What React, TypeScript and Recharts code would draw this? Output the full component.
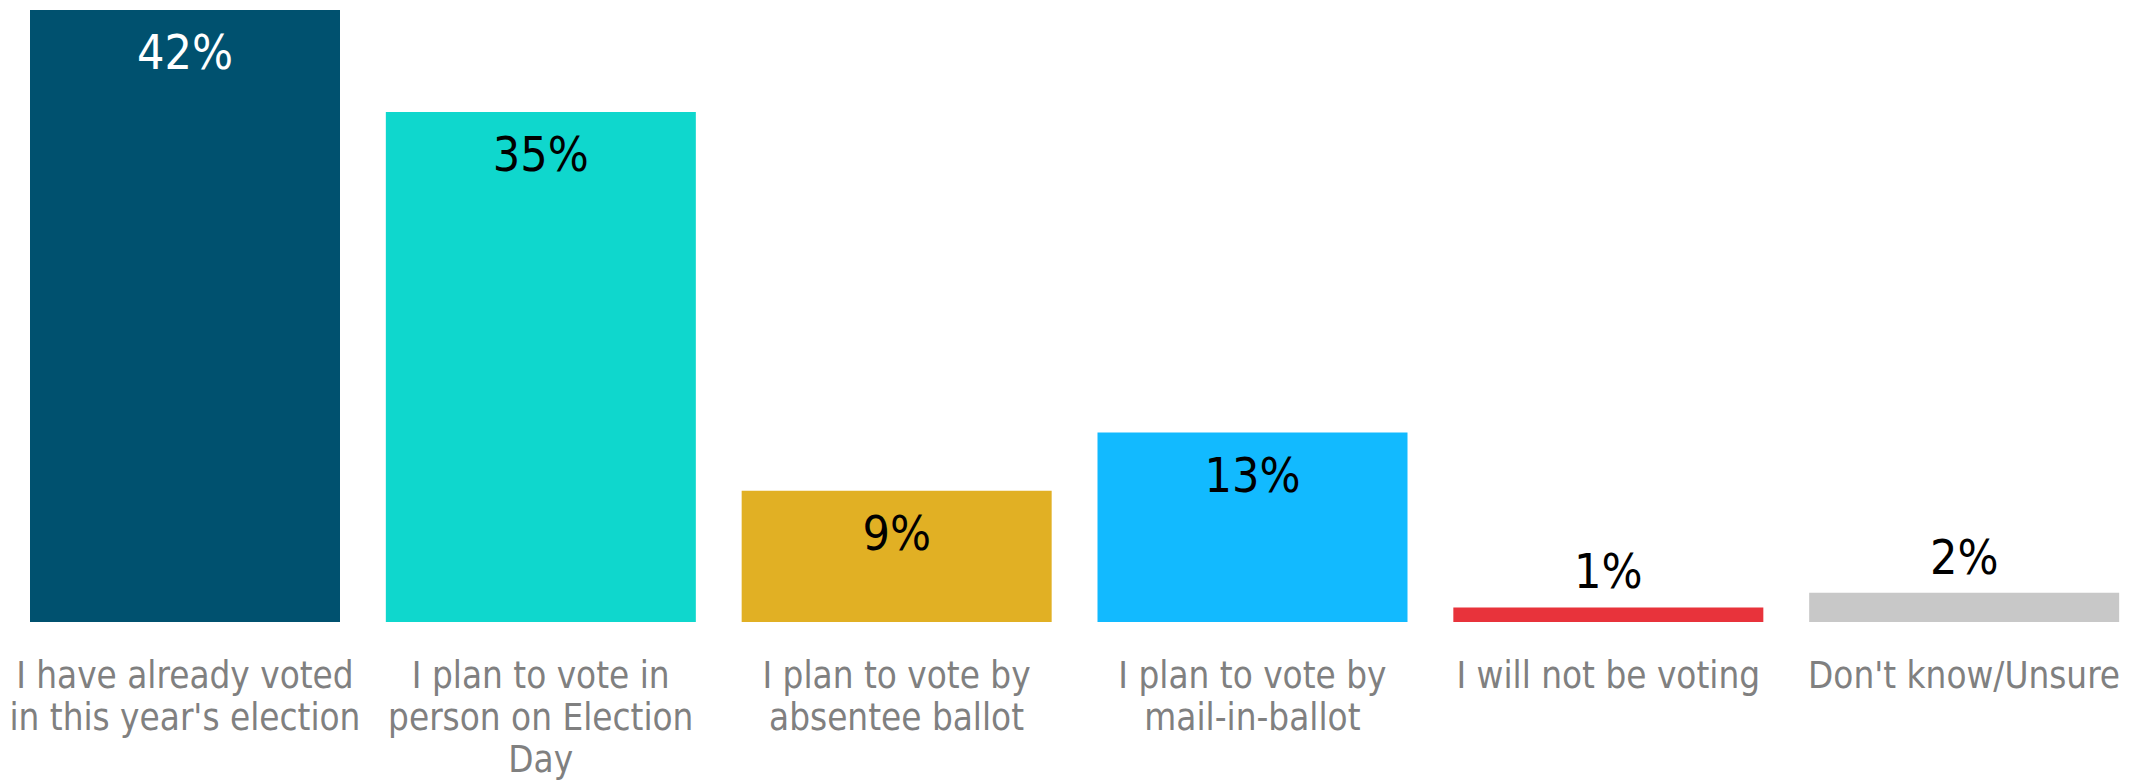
import { BarChart, Bar, XAxis, YAxis, Cell, LabelList } from "recharts"

const categories = [
  "I have already voted in this year's election",
  "I plan to vote in person on Election Day",
  "I plan to vote by absentee ballot",
  "I plan to vote by mail-in-ballot",
  "I will not be voting",
  "Don't know/Unsure",
]
const values = [42, 35, 9, 13, 1, 2]
const tickLines = [
  ["I have already voted", "in this year's election"],
  ["I plan to vote in", "person on Election", "Day"],
  ["I plan to vote by", "absentee ballot"],
  ["I plan to vote by", "mail-in-ballot"],
  ["I will not be voting"],
  ["Don't know/Unsure"],
]
const colors = ["#00516f", "#0fd7cd", "#e1b024", "#12baff", "#e8333b", "#c8c8c8"]
const labelColors = ["#ffffff", "#000000", "#000000", "#000000", "#000000", "#000000"]

const data = categories.map((name, i) => ({ name, value: values[i] }))

const FONT = "Tahoma, 'DejaVu Sans Condensed', 'DejaVu Sans', sans-serif"

function CategoryTick(props: any) {
  const { x, y, index } = props
  const lines = tickLines[index] || []
  return (
    <g>
      {lines.map((line, i) => (
        <text
          key={i}
          x={x}
          y={y + 45 + i * 42}
          textAnchor="middle"
          dominantBaseline="central"
          fill="#808080"
          fontSize={36.5}
          fontFamily={FONT}
        >
          {line}
        </text>
      ))}
    </g>
  )
}

function ValueLabel(props: any) {
  const { x, y, width, value, index } = props
  const inside = value >= 5 // short bars get their label above
  return (
    <text
      x={x + width / 2}
      y={inside ? y + 42 : y - 36}
      textAnchor="middle"
      dominantBaseline="central"
      fill={labelColors[index]}
      fontSize={48}
      fontFamily={FONT}
    >
      {value}%
    </text>
  )
}

export default function App() {
  return (
    <div style={{ position: "absolute", left: 0, top: 0, background: "#fff" }}>
      <BarChart
        width={2149}
        height={780}
        data={data}
        margin={{ top: 10, right: 7, bottom: 0, left: 7 }}
        barCategoryGap={23}
      >
        <XAxis
          dataKey="name"
          axisLine={false}
          tickLine={false}
          interval={0}
          height={158}
          tick={<CategoryTick />}
        />
        <YAxis hide domain={[0, 42]} allowDataOverflow />
        <Bar dataKey="value" isAnimationActive={false}>
          {data.map((d, i) => (
            <Cell key={d.name} fill={colors[i]} />
          ))}
          <LabelList dataKey="value" content={<ValueLabel />} />
        </Bar>
      </BarChart>
    </div>
  )
}
